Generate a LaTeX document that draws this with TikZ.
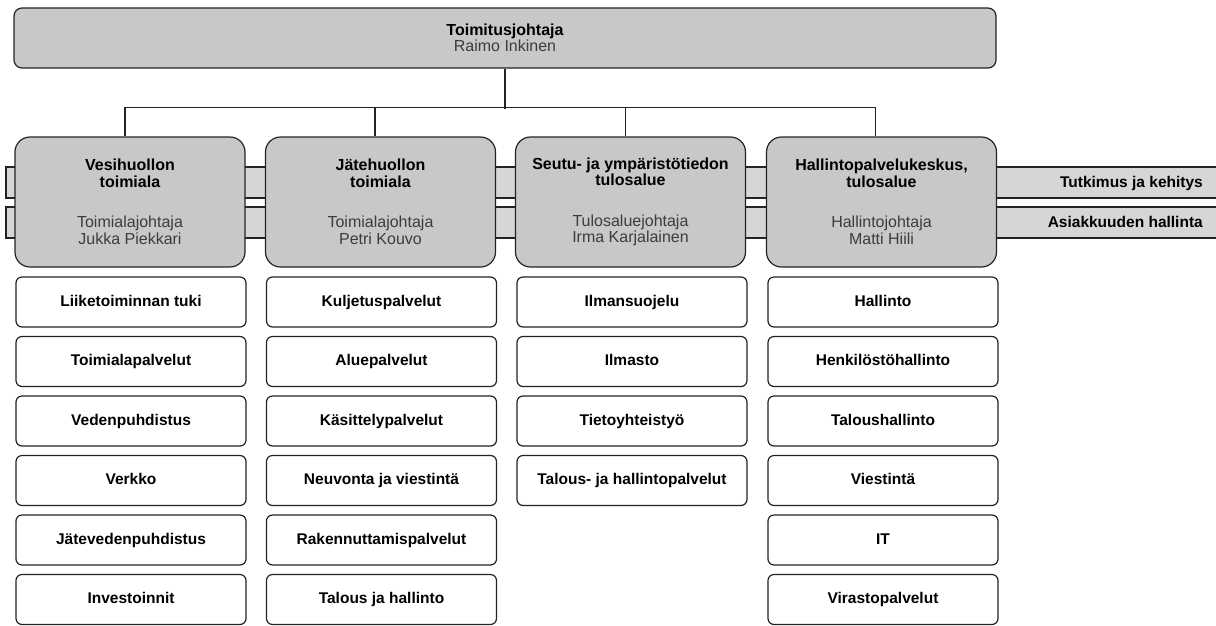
\documentclass[tikz,border=0pt]{standalone}
\usepackage{fontspec}
\setmainfont{Liberation Sans}
\definecolor{boxgray}{RGB}{200,200,200}
\definecolor{bargray}{RGB}{214,214,214}
\definecolor{lineblk}{RGB}{35,35,35}
\definecolor{nametext}{RGB}{60,60,60}
\begin{document}
\begin{tikzpicture}[x=1pt,y=-1pt,
  every node/.style={font=\fontsize{16}{16.5}\selectfont, align=center, inner sep=0pt},
  topbox/.style={draw=lineblk, line width=1.2pt, fill=boxgray, rounded corners=8pt, minimum width=982pt, minimum height=60pt},
  divbox/.style={draw=lineblk, line width=1.2pt, fill=boxgray, rounded corners=15pt, minimum width=230pt, minimum height=130pt},
  itembox/.style={draw=lineblk, line width=1.2pt, fill=white, rounded corners=6pt, minimum width=230pt, minimum height=50pt, text height=11pt, text depth=3pt, font=\fontsize{15.5}{16}\selectfont\bfseries},
  conn/.style={draw=lineblk, line width=1.2pt},
  bar/.style={draw=lineblk, line width=1.2pt, fill=bargray},
  bartext/.style={anchor=east, text height=11pt, text depth=3pt, font=\fontsize{15.5}{16}\selectfont\bfseries},
]
\useasboundingbox (0,0) rectangle (1216,625);

% horizontal bars behind the division boxes
\path[bar] (1230,167) -| (6,198) -- (1230,198);
\path[bar] (1230,207) -| (6,238) -- (1230,238);
\node[bartext] (tk) at (1203,183.5) {Tutkimus ja kehitys};
\node[bartext] (ah) at (1203,223.5) {Asiakkuuden hallinta};

% top box
\node[topbox] (top) at (505,38) {\textbf{Toimitusjohtaja}\\\textcolor{nametext}{Raimo Inkinen}};

% division boxes
\node[divbox] (d1) at (130,202) {\textbf{Vesihuollon}\\\textbf{toimiala}\\[24pt]\textcolor{nametext}{Toimialajohtaja}\\\textcolor{nametext}{Jukka Piekkari}};
\node[divbox] (d2) at (380.5,202) {\textbf{Jätehuollon}\\\textbf{toimiala}\\[24pt]\textcolor{nametext}{Toimialajohtaja}\\\textcolor{nametext}{Petri Kouvo}};
\node[divbox] (d3) at (630.5,202) {\textbf{Seutu- ja ympäristötiedon}\\\textbf{tulosalue}\\[24pt]\textcolor{nametext}{Tulosaluejohtaja}\\\textcolor{nametext}{Irma Karjalainen}};
\node[divbox] (d4) at (881.5,202) {\textbf{Hallintopalvelukeskus,}\\\textbf{tulosalue}\\[24pt]\textcolor{nametext}{Hallintojohtaja}\\\textcolor{nametext}{Matti Hiili}};

% connectors
\draw[conn] (top.south) -- ++(0,40);
\draw[conn] ([xshift=-5pt]d1.north) -- ++(0,-29) -| ([xshift=-6pt]d4.north);
\draw[conn] ([xshift=-5.5pt]d2.north) -- ++(0,-29);
\draw[conn] ([xshift=-5pt]d3.north) -- ++(0,-29);

% column 1
\node[itembox] (a1) at (131,302) {Liiketoiminnan tuki};
\node[itembox] (a2) at (131,361.5) {Toimialapalvelut};
\node[itembox] (a3) at (131,421) {Vedenpuhdistus};
\node[itembox] (a4) at (131,480.5) {Verkko};
\node[itembox] (a5) at (131,540) {Jätevedenpuhdistus};
\node[itembox] (a6) at (131,599.5) {Investoinnit};

% column 2
\node[itembox] (b1) at (381.5,302) {Kuljetuspalvelut};
\node[itembox] (b2) at (381.5,361.5) {Aluepalvelut};
\node[itembox] (b3) at (381.5,421) {Käsittelypalvelut};
\node[itembox] (b4) at (381.5,480.5) {Neuvonta ja viestintä};
\node[itembox] (b5) at (381.5,540) {Rakennuttamispalvelut};
\node[itembox] (b6) at (381.5,599.5) {Talous ja hallinto};

% column 3
\node[itembox] (c1) at (632,302) {Ilmansuojelu};
\node[itembox] (c2) at (632,361.5) {Ilmasto};
\node[itembox] (c3) at (632,421) {Tietoyhteistyö};
\node[itembox] (c4) at (632,480.5) {Talous- ja hallintopalvelut};

% column 4
\node[itembox] (e1) at (883,302) {Hallinto};
\node[itembox] (e2) at (883,361.5) {Henkilöstöhallinto};
\node[itembox] (e3) at (883,421) {Taloushallinto};
\node[itembox] (e4) at (883,480.5) {Viestintä};
\node[itembox] (e5) at (883,540) {IT};
\node[itembox] (e6) at (883,599.5) {Virastopalvelut};
\end{tikzpicture}
\end{document}
